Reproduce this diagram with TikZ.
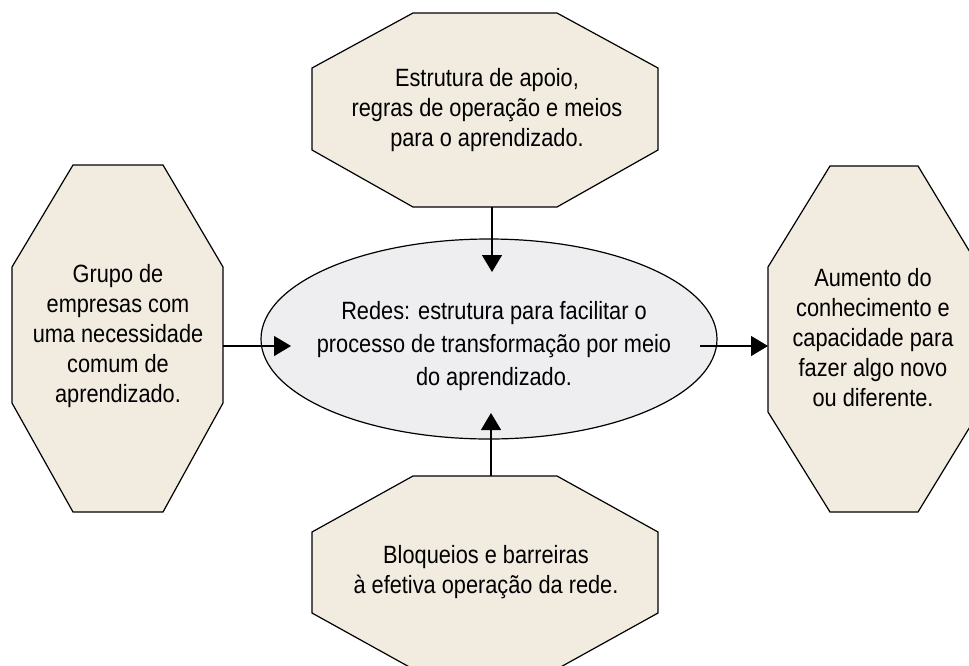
\documentclass[tikz,border=0pt]{standalone}
\usepackage{fontspec}
\setmainfont[FakeStretch=0.87]{Liberation Sans}
\usetikzlibrary{arrows.meta,shapes.geometric}
\definecolor{octfill}{HTML}{F2EBE0}
\definecolor{ellfill}{HTML}{EEEDEF}
\tikzset{
  octo/.style={draw=black, fill=octfill, line width=1.2pt, line join=miter},
  lbl/.style={align=center, inner sep=0pt, font=\fontsize{25}{30}\selectfont},
  conn/.style={draw=black, line width=1.2pt, -{Triangle[length=17pt,width=20pt]}}
}
\begin{document}
\begin{tikzpicture}[x=1pt,y=-1pt]
\useasboundingbox (0,0) rectangle (969,665);
\clip (0,0) rectangle (969,665);
% top octagon
\path[octo] (413,13) -- (557,13) -- (658,68) -- (658,150) -- (557,207) -- (413,207) -- (312,150) -- (312,68) -- cycle;
\node[lbl] (top) at (487,110) {Estrutura de apoio,\\regras de operação e meios\\para o aprendizado.};
% left octagon
\path[octo] (73,165) -- (163,165) -- (223,267) -- (223,403) -- (163,512) -- (73,512) -- (12,403) -- (12,267) -- cycle;
\node[lbl] (left) at (118,336) {Grupo de\\empresas com\\uma necessidade\\comum de\\aprendizado.};
% right octagon
\path[octo] (830,166) -- (918,166) -- (979,267) -- (979,412) -- (918,512) -- (830,512) -- (768,412) -- (768,267) -- cycle;
\node[lbl] (right) at (873,338) {Aumento do\\conhecimento e\\capacidade para\\fazer algo novo\\ou diferente.};
% bottom octagon
\path[octo] (413,476) -- (557,476) -- (658,532) -- (658,613) -- (557,669) -- (413,669) -- (312,613) -- (312,532) -- cycle;
\node[lbl] (bottom) at (486,572) {Bloqueios e barreiras\\à efetiva operação da rede.};
% central ellipse
\node[ellipse, draw=black, fill=ellfill, line width=1.2pt, minimum width=456pt, minimum height=200pt, inner sep=0pt] (rede) at (489,339) {};
\node[lbl, font=\fontsize{25}{33}\selectfont] (redetxt) at (494,346) {Redes: estrutura para facilitar o\\processo de transformação por meio\\do aprendizado.};
% connector ends
\coordinate (tA) at (492,207);
\coordinate (tB) at (492,272);
\coordinate (bA) at (491,476);
\coordinate (bB) at (491,413);
\coordinate (lA) at (223,346);
\coordinate (lB) at (291,346);
\coordinate (rA) at (700,346);
\coordinate (rB) at (768,346);
\draw[conn] (tA) -- (tB);
\draw[conn] (bA) -- (bB);
\draw[conn] (lA) -- (lB);
\draw[conn] (rA) -- (rB);
\end{tikzpicture}
\end{document}
